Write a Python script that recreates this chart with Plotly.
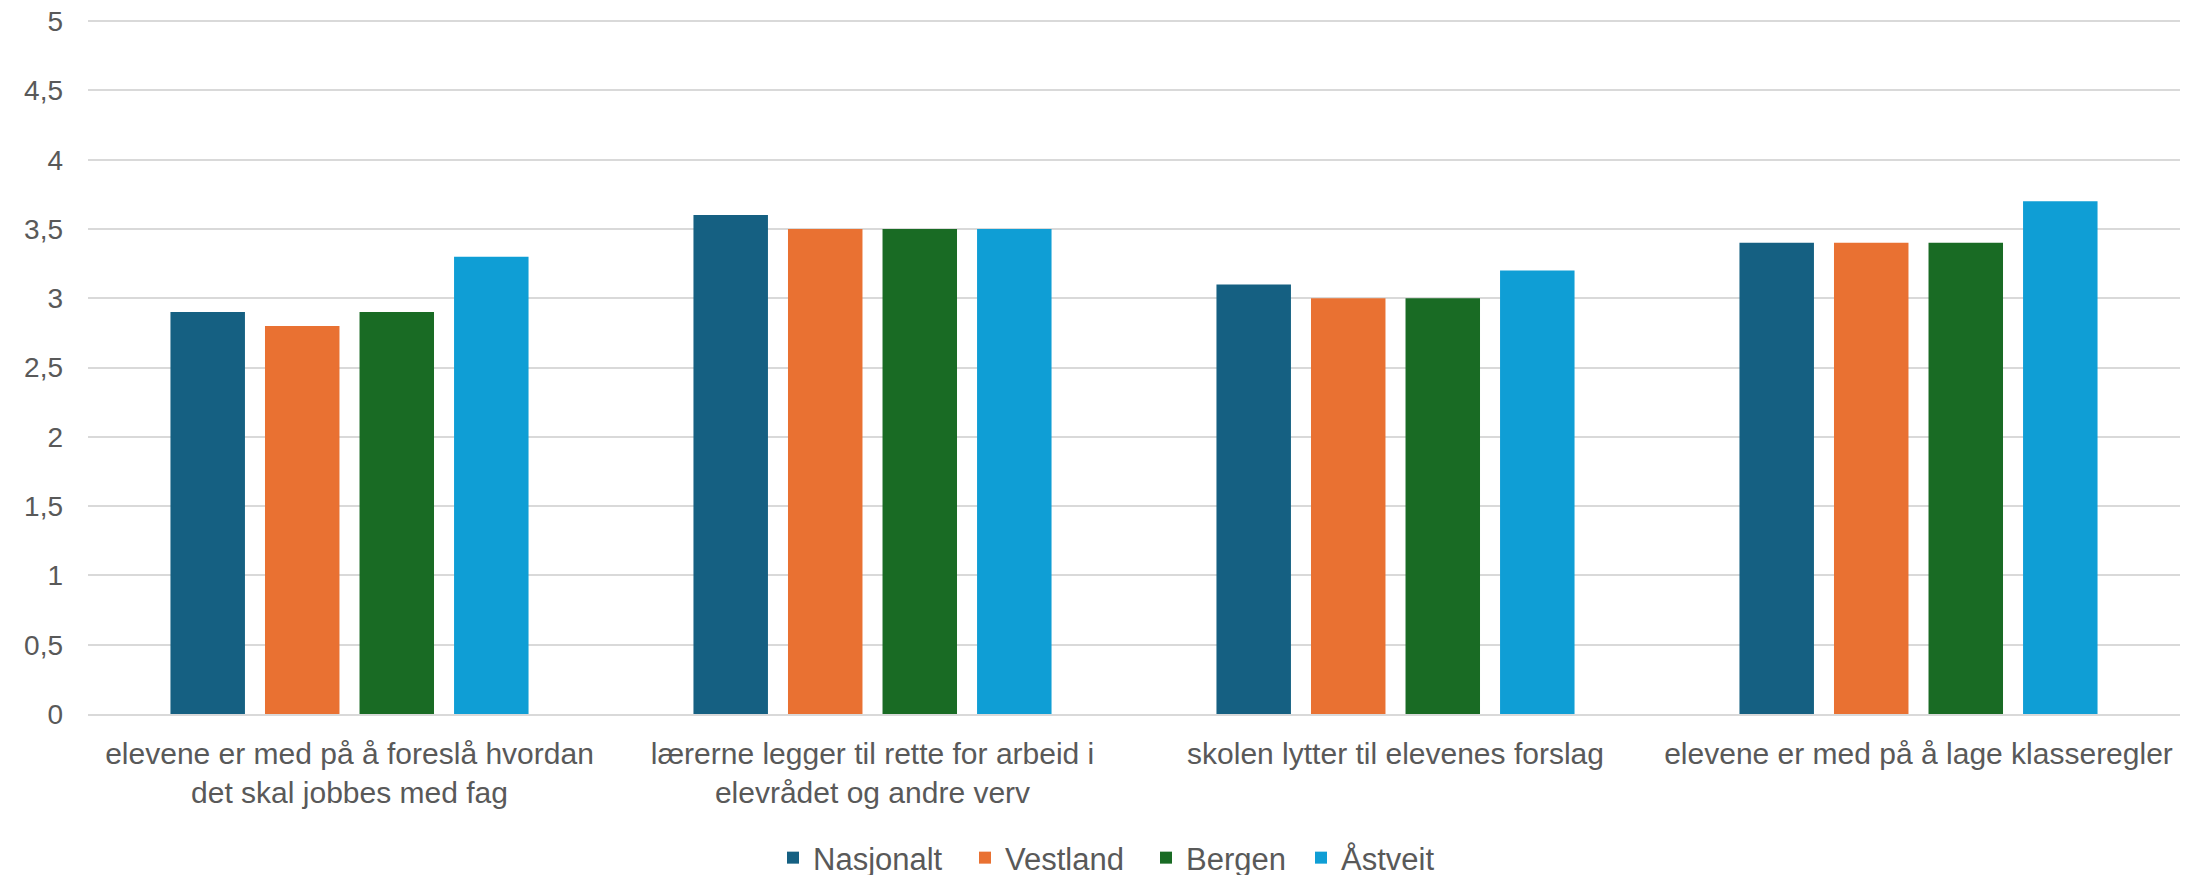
import plotly.graph_objects as go

categories = [
    "elevene er med på å foreslå hvordan<br>det skal jobbes med fag",
    "lærerne legger til rette for arbeid i<br>elevrådet og andre verv",
    "skolen lytter til elevenes forslag",
    "elevene er med på å lage klasseregler",
]
series_names = ["Nasjonalt", "Vestland", "Bergen", "Åstveit"]
nasjonalt = [2.9, 3.6, 3.1, 3.4]
vestland = [2.8, 3.5, 3.0, 3.4]
bergen = [2.9, 3.5, 3.0, 3.4]
astveit = [3.3, 3.5, 3.2, 3.7]
colors = ["#156082", "#E97132", "#196B24", "#0F9ED5"]
y_ticks = [0, 0.5, 1, 1.5, 2, 2.5, 3, 3.5, 4, 4.5, 5]

W, H = 2201, 885
legend_ids = ["legend", "legend2", "legend3", "legend4"]
legend_sym_x = [793, 985, 1166, 1321]  # symbol centres, px

fig = go.Figure()
for name, vals, col, lid in zip(series_names, [nasjonalt, vestland, bergen, astveit], colors, legend_ids):
    fig.add_trace(go.Bar(name=name, x=categories, y=vals, legend=lid,
                         marker=dict(color=col, line=dict(width=0))))

leg_common = dict(orientation="h", xanchor="left", xref="container",
                  y=1 - 858 / H, yanchor="middle", yref="container",
                  font=dict(size=31, color="#595959"), itemwidth=30,
                  bgcolor="rgba(0,0,0,0)")
legends = {}
for lid, sx in zip(legend_ids, legend_sym_x):
    legends[lid] = dict(leg_common, x=(sx - 20) / W)

fig.update_layout(
    width=W, height=H,
    margin=dict(l=88, r=21, t=20, b=H - 714, autoexpand=False),
    paper_bgcolor="white", plot_bgcolor="white",
    barmode="group", bargap=0.277, bargroupgap=0.212,
    separators=",.",
    font=dict(family="Liberation Sans, Arial, sans-serif", color="#595959", size=30),
    showlegend=True,
    **legends,
)
fig.update_yaxes(range=[0, 5.008], tickvals=y_ticks, showgrid=True, gridcolor="#d9d9d9", gridwidth=1.5,
                 zeroline=False, showline=False, ticks="", automargin=False,
                 tickfont=dict(family="Liberation Sans, Arial, sans-serif", size=28, color="#595959"),
                 ticklabelstandoff=24)
fig.update_xaxes(showline=True, linecolor="#d9d9d9", linewidth=1.5, ticks="", showgrid=False,
                 automargin=False,
                 tickfont=dict(size=30, color="#595959"), ticklabelstandoff=12)

fig.write_html("out.html", config={"displayModeBar": False},
               post_script="document.body.style.margin='0';")
